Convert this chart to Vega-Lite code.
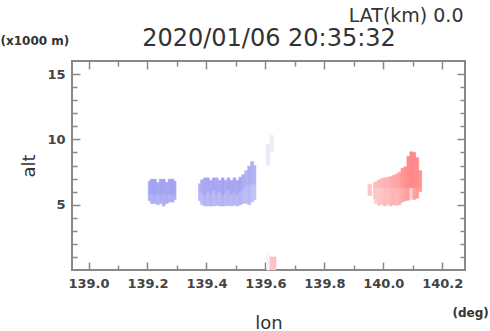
{
  "$schema": "https://vega.github.io/schema/vega-lite/v6.json",
  "width": 393,
  "height": 209,
  "autosize": {"type": "none"},
  "padding": {"left": 72, "top": 61, "right": 25, "bottom": 61},
  "background": "white",
  "config": {
    "view": {"stroke": "#888888", "strokeWidth": 2},
    "axis": {
      "domain": false, "grid": false, "tickColor": "#888888", "tickWidth": 1.5,
      "labelFont": "DejaVu Sans", "labelFontWeight": "bold", "labelFontSize": 13, "labelColor": "#444444",
      "titleFont": "DejaVu Sans", "titleFontWeight": "normal", "titleColor": "#333333",
      "labelFlush": false, "labelOverlap": false, "labelBound": false
    }
  },
  "data": {"values": [
    {"lon": 139.203, "lon2": 139.21, "alt": 5.3, "alt2": 5.8, "v": -5.5},
    {"lon": 139.203, "lon2": 139.21, "alt": 5.8, "alt2": 6.8, "v": -6.2},
    {"lon": 139.21, "lon2": 139.22, "alt": 5.1, "alt2": 5.8, "v": -5.3},
    {"lon": 139.21, "lon2": 139.22, "alt": 5.8, "alt2": 6.95, "v": -6.2},
    {"lon": 139.22, "lon2": 139.23, "alt": 5.1, "alt2": 5.8, "v": -5.6},
    {"lon": 139.22, "lon2": 139.23, "alt": 5.8, "alt2": 6.95, "v": -6.3},
    {"lon": 139.23, "lon2": 139.24, "alt": 5.0, "alt2": 5.8, "v": -5.2},
    {"lon": 139.23, "lon2": 139.24, "alt": 5.8, "alt2": 6.7, "v": -6.0},
    {"lon": 139.24, "lon2": 139.25, "alt": 5.1, "alt2": 5.8, "v": -5.5},
    {"lon": 139.24, "lon2": 139.25, "alt": 5.8, "alt2": 6.95, "v": -6.2},
    {"lon": 139.25, "lon2": 139.26, "alt": 4.9, "alt2": 5.8, "v": -5.4},
    {"lon": 139.25, "lon2": 139.26, "alt": 5.8, "alt2": 6.95, "v": -6.3},
    {"lon": 139.26, "lon2": 139.27, "alt": 5.1, "alt2": 5.8, "v": -5.6},
    {"lon": 139.26, "lon2": 139.27, "alt": 5.8, "alt2": 6.7, "v": -6.1},
    {"lon": 139.27, "lon2": 139.28, "alt": 5.2, "alt2": 5.8, "v": -5.4},
    {"lon": 139.27, "lon2": 139.28, "alt": 5.8, "alt2": 6.95, "v": -6.2},
    {"lon": 139.28, "lon2": 139.29, "alt": 5.2, "alt2": 5.8, "v": -5.5},
    {"lon": 139.28, "lon2": 139.29, "alt": 5.8, "alt2": 6.95, "v": -6.2},
    {"lon": 139.29, "lon2": 139.297, "alt": 5.4, "alt2": 5.8, "v": -5.3},
    {"lon": 139.29, "lon2": 139.297, "alt": 5.8, "alt2": 6.8, "v": -6.0},

    {"lon": 139.373, "lon2": 139.38, "alt": 5.3, "alt2": 6.1, "v": -4.8},
    {"lon": 139.373, "lon2": 139.38, "alt": 6.1, "alt2": 6.6, "v": -5.4},
    {"lon": 139.38, "lon2": 139.39, "alt": 5.0, "alt2": 5.9, "v": -4.6},
    {"lon": 139.38, "lon2": 139.39, "alt": 5.9, "alt2": 6.9, "v": -5.6},
    {"lon": 139.39, "lon2": 139.40, "alt": 4.9, "alt2": 5.7, "v": -5.0},
    {"lon": 139.39, "lon2": 139.40, "alt": 5.7, "alt2": 7.05, "v": -5.9},
    {"lon": 139.40, "lon2": 139.41, "alt": 4.9, "alt2": 6.0, "v": -4.7},
    {"lon": 139.40, "lon2": 139.41, "alt": 6.0, "alt2": 7.05, "v": -6.0},
    {"lon": 139.41, "lon2": 139.42, "alt": 4.9, "alt2": 5.8, "v": -5.1},
    {"lon": 139.41, "lon2": 139.42, "alt": 5.8, "alt2": 6.85, "v": -5.9},
    {"lon": 139.42, "lon2": 139.43, "alt": 4.9, "alt2": 6.1, "v": -4.6},
    {"lon": 139.42, "lon2": 139.43, "alt": 6.1, "alt2": 7.05, "v": -6.1},
    {"lon": 139.43, "lon2": 139.44, "alt": 4.95, "alt2": 5.8, "v": -5.0},
    {"lon": 139.43, "lon2": 139.44, "alt": 5.8, "alt2": 7.05, "v": -5.9},
    {"lon": 139.44, "lon2": 139.45, "alt": 4.9, "alt2": 6.0, "v": -4.7},
    {"lon": 139.44, "lon2": 139.45, "alt": 6.0, "alt2": 6.85, "v": -6.0},
    {"lon": 139.45, "lon2": 139.46, "alt": 4.9, "alt2": 5.7, "v": -5.1},
    {"lon": 139.45, "lon2": 139.46, "alt": 5.7, "alt2": 7.05, "v": -6.1},
    {"lon": 139.46, "lon2": 139.47, "alt": 4.9, "alt2": 5.9, "v": -4.8},
    {"lon": 139.46, "lon2": 139.47, "alt": 5.9, "alt2": 6.85, "v": -5.8},
    {"lon": 139.47, "lon2": 139.48, "alt": 4.95, "alt2": 6.1, "v": -5.0},
    {"lon": 139.47, "lon2": 139.48, "alt": 6.1, "alt2": 7.05, "v": -6.0},
    {"lon": 139.48, "lon2": 139.49, "alt": 4.9, "alt2": 5.8, "v": -4.7},
    {"lon": 139.48, "lon2": 139.49, "alt": 5.8, "alt2": 6.85, "v": -5.9},
    {"lon": 139.49, "lon2": 139.50, "alt": 4.95, "alt2": 6.0, "v": -5.0},
    {"lon": 139.49, "lon2": 139.50, "alt": 6.0, "alt2": 7.05, "v": -6.1},
    {"lon": 139.50, "lon2": 139.51, "alt": 4.9, "alt2": 5.8, "v": -4.8},
    {"lon": 139.50, "lon2": 139.51, "alt": 5.8, "alt2": 6.85, "v": -6.0},
    {"lon": 139.51, "lon2": 139.52, "alt": 5.0, "alt2": 6.0, "v": -5.1},
    {"lon": 139.51, "lon2": 139.52, "alt": 6.0, "alt2": 7.1, "v": -6.2},
    {"lon": 139.52, "lon2": 139.53, "alt": 5.1, "alt2": 6.2, "v": -4.7},
    {"lon": 139.52, "lon2": 139.53, "alt": 6.2, "alt2": 7.3, "v": -5.6},
    {"lon": 139.53, "lon2": 139.54, "alt": 5.1, "alt2": 6.4, "v": -4.4},
    {"lon": 139.53, "lon2": 139.54, "alt": 6.4, "alt2": 7.6, "v": -5.3},
    {"lon": 139.54, "lon2": 139.55, "alt": 5.0, "alt2": 6.5, "v": -4.8},
    {"lon": 139.54, "lon2": 139.55, "alt": 6.5, "alt2": 7.95, "v": -5.6},
    {"lon": 139.55, "lon2": 139.56, "alt": 5.2, "alt2": 6.6, "v": -4.3},
    {"lon": 139.55, "lon2": 139.56, "alt": 6.6, "alt2": 8.3, "v": -5.4},
    {"lon": 139.56, "lon2": 139.568, "alt": 5.4, "alt2": 6.6, "v": -4.2},
    {"lon": 139.56, "lon2": 139.568, "alt": 6.6, "alt2": 8.0, "v": -5.0},

    {"lon": 139.602, "lon2": 139.615, "alt": 8.0, "alt2": 9.6, "v": -1.4},
    {"lon": 139.615, "lon2": 139.628, "alt": 9.1, "alt2": 10.3, "v": -1.2},
    {"lon": 139.605, "lon2": 139.615, "alt": 0.0, "alt2": 1.3, "v": -0.6},
    {"lon": 139.615, "lon2": 139.636, "alt": 0.0, "alt2": 1.0, "v": 3.6},

    {"lon": 139.948, "lon2": 139.96, "alt": 5.7, "alt2": 6.55, "v": 3.5},
    {"lon": 139.966, "lon2": 139.97, "alt": 5.45, "alt2": 6.3, "v": 3.5},
    {"lon": 139.966, "lon2": 139.97, "alt": 6.3, "alt2": 6.65, "v": 4.0},
    {"lon": 139.97, "lon2": 139.98, "alt": 5.1, "alt2": 6.3, "v": 3.3},
    {"lon": 139.97, "lon2": 139.98, "alt": 6.3, "alt2": 6.75, "v": 4.0},
    {"lon": 139.98, "lon2": 139.99, "alt": 4.95, "alt2": 6.3, "v": 3.5},
    {"lon": 139.98, "lon2": 139.99, "alt": 6.3, "alt2": 6.9, "v": 4.2},
    {"lon": 139.99, "lon2": 140.0, "alt": 5.0, "alt2": 6.3, "v": 3.5},
    {"lon": 139.99, "lon2": 140.0, "alt": 6.3, "alt2": 7.0, "v": 4.3},
    {"lon": 140.0, "lon2": 140.01, "alt": 4.9, "alt2": 6.3, "v": 4.0},
    {"lon": 140.0, "lon2": 140.01, "alt": 6.3, "alt2": 7.05, "v": 4.5},
    {"lon": 140.01, "lon2": 140.02, "alt": 5.0, "alt2": 6.3, "v": 3.8},
    {"lon": 140.01, "lon2": 140.02, "alt": 6.3, "alt2": 7.1, "v": 4.6},
    {"lon": 140.02, "lon2": 140.03, "alt": 4.9, "alt2": 6.3, "v": 4.2},
    {"lon": 140.02, "lon2": 140.03, "alt": 6.3, "alt2": 7.15, "v": 5.0},
    {"lon": 140.03, "lon2": 140.04, "alt": 5.0, "alt2": 6.3, "v": 4.5},
    {"lon": 140.03, "lon2": 140.04, "alt": 6.3, "alt2": 7.25, "v": 5.2},
    {"lon": 140.04, "lon2": 140.05, "alt": 4.95, "alt2": 6.3, "v": 4.2},
    {"lon": 140.04, "lon2": 140.05, "alt": 6.3, "alt2": 7.35, "v": 5.4},
    {"lon": 140.05, "lon2": 140.06, "alt": 5.0, "alt2": 6.3, "v": 4.5},
    {"lon": 140.05, "lon2": 140.06, "alt": 6.3, "alt2": 7.5, "v": 5.6},
    {"lon": 140.06, "lon2": 140.07, "alt": 5.2, "alt2": 6.3, "v": 5.0},
    {"lon": 140.06, "lon2": 140.07, "alt": 6.3, "alt2": 7.8, "v": 6.2},
    {"lon": 140.07, "lon2": 140.08, "alt": 5.3, "alt2": 6.3, "v": 5.5},
    {"lon": 140.07, "lon2": 140.08, "alt": 6.3, "alt2": 7.9, "v": 6.5},
    {"lon": 140.08, "lon2": 140.09, "alt": 5.35, "alt2": 6.3, "v": 5.8},
    {"lon": 140.08, "lon2": 140.09, "alt": 6.3, "alt2": 8.7, "v": 6.8},
    {"lon": 140.09, "lon2": 140.1, "alt": 5.4, "alt2": 6.3, "v": 2.5},
    {"lon": 140.09, "lon2": 140.1, "alt": 6.3, "alt2": 9.05, "v": 7.0},
    {"lon": 140.1, "lon2": 140.11, "alt": 5.4, "alt2": 6.3, "v": 5.5},
    {"lon": 140.1, "lon2": 140.11, "alt": 6.3, "alt2": 9.0, "v": 7.0},
    {"lon": 140.11, "lon2": 140.12, "alt": 5.5, "alt2": 6.3, "v": 6.0},
    {"lon": 140.11, "lon2": 140.12, "alt": 6.3, "alt2": 8.6, "v": 6.8},
    {"lon": 140.12, "lon2": 140.13, "alt": 6.0, "alt2": 6.3, "v": 6.0},
    {"lon": 140.12, "lon2": 140.13, "alt": 6.3, "alt2": 7.6, "v": 6.5}
  ]},
  "resolve": {"axis": {"x": "independent", "y": "independent"}},
  "layer": [
    {
      "mark": {"type": "rect", "strokeWidth": 0.6},
      "encoding": {
        "x": {"field": "lon", "type": "quantitative",
          "scale": {"domain": [138.944, 140.277], "nice": false, "zero": false},
          "axis": {"orient": "bottom",
            "values": [139.0, 139.1, 139.2, 139.3, 139.4, 139.5, 139.6, 139.7, 139.8, 139.9, 140.0, 140.1, 140.2],
            "tickSize": {"condition": {"test": "round(datum.value*10)%2==0", "value": -8}, "value": -5},
            "labelExpr": "round(datum.value*10)%2==0 ? format(datum.value,'.1f') : ''",
            "labelPadding": 15,
            "title": "lon", "titleFontSize": 18, "titleY": 58, "titleBaseline": "alphabetic"}},
        "x2": {"field": "lon2"},
        "y": {"field": "alt", "type": "quantitative",
          "scale": {"domain": [0, 16], "nice": false, "zero": false},
          "axis": {"orient": "left",
            "values": [1, 2, 3, 4, 5, 6, 7, 8, 9, 10, 11, 12, 13, 14, 15],
            "tickSize": {"condition": {"test": "datum.value%5==0", "value": -8}, "value": -5},
            "labelExpr": "datum.value%5==0 ? datum.label : ''",
            "labelPadding": 15,
            "title": "alt", "titleFontSize": 18, "titleX": -43, "titleBaseline": "middle"}},
        "y2": {"field": "alt2"},
        "fill": {"field": "v", "type": "quantitative", "legend": null,
          "scale": {"domain": [-8, 0, 8], "range": ["#8888ee", "#ffffff", "#ff7878"], "interpolate": "rgb"}},
        "stroke": {"field": "v", "type": "quantitative", "legend": null,
          "scale": {"domain": [-8, 0, 8], "range": ["#8888ee", "#ffffff", "#ff7878"], "interpolate": "rgb"}}
      }
    },
    {
      "mark": {"type": "rect", "opacity": 0},
      "encoding": {
        "x": {"field": "lon", "type": "quantitative",
          "axis": {"orient": "top",
            "values": [139.0, 139.1, 139.2, 139.3, 139.4, 139.5, 139.6, 139.7, 139.8, 139.9, 140.0, 140.1, 140.2],
            "tickSize": {"condition": {"test": "round(datum.value*10)%2==0", "value": -8}, "value": -5},
            "labels": false,
            "title": "2020/01/06 20:35:32", "titleFontSize": 24, "titleY": -16, "titleBaseline": "alphabetic"}},
        "y": {"field": "alt", "type": "quantitative",
          "axis": {"orient": "right",
            "values": [1, 2, 3, 4, 5, 6, 7, 8, 9, 10, 11, 12, 13, 14, 15],
            "tickSize": {"condition": {"test": "datum.value%5==0", "value": -8}, "value": -5},
            "labels": false,
            "title": "LAT(km) 0.0", "titleAngle": 0, "titleFontSize": 19, "titleAlign": "right",
            "titleX": -2, "titleY": -40, "titleBaseline": "alphabetic"}}
      }
    },
    {
      "mark": {"type": "rect", "opacity": 0},
      "encoding": {
        "x": {"field": "lon", "type": "quantitative",
          "axis": {"orient": "bottom", "ticks": false, "labels": false,
            "title": "(deg)", "titleFontSize": 12, "titleFontWeight": "bold", "titleAlign": "left",
            "titleX": 380, "titleY": 42, "titleBaseline": "middle"}},
        "y": {"field": "alt", "type": "quantitative",
          "axis": {"orient": "left", "ticks": false, "labels": false,
            "title": "(x1000 m)", "titleAngle": 0, "titleFontSize": 12, "titleFontWeight": "bold", "titleAlign": "left",
            "titleX": -72, "titleY": -21, "titleBaseline": "middle"}}
      }
    }
  ]
}
